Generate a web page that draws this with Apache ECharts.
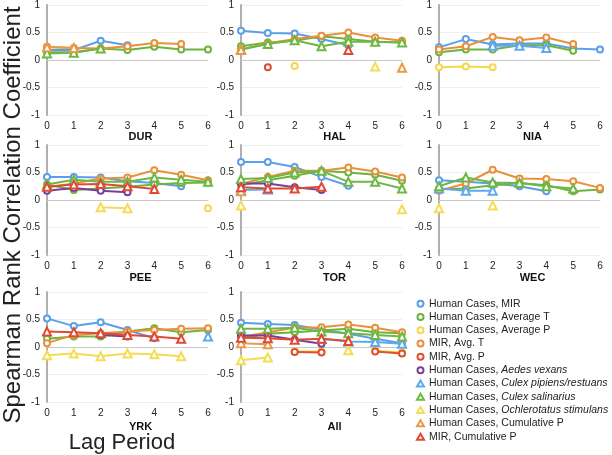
<!DOCTYPE html>
<html><head><meta charset="utf-8">
<script src="https://cdn.jsdelivr.net/npm/echarts@6/dist/echarts.min.js"></script>
<style>html,body{margin:0;padding:0;background:#fff}#c{width:612px;height:455px}</style>
</head><body><div id="c"></div>
<script>
const panelNames = ['DUR','HAL','NIA','PEE','TOR','WEC','YRK','All'];
const lags = ['0','1','2','3','4','5','6'];
const seriesNames = ['Human Cases, MIR','Human Cases, Average T','Human Cases, Average P','MIR, Avg. T','MIR, Avg. P','Human Cases, Aedes vexans','Human Cases, Culex pipiens/restuans','Human Cases, Culex salinarius','Human Cases, Ochlerotatus stimulans','Human Cases, Cumulative P','MIR, Cumulative P'];
const N = null;
// each array: one row per panel (DUR, HAL, NIA, PEE, TOR, WEC, YRK, All), lags 0..6
const hcMIR = [
 [0.18,0.18,0.35,0.27,N,N,N],
 [0.53,0.49,0.48,0.38,0.27,N,N],
 [0.23,0.38,0.28,0.30,0.30,0.21,0.19],
 [0.42,0.42,0.41,0.34,0.31,0.25,N],
 [0.69,0.69,0.60,0.42,0.26,N,N],
 [0.36,0.33,0.30,0.25,0.16,N,N],
 [0.52,0.38,0.45,0.31,0.16,N,N],
 [0.44,0.42,0.40,0.32,0.24,0.15,0.07]];
const hcAvgT = [
 [0.14,0.14,0.21,0.18,0.24,0.19,0.19],
 [0.25,0.32,0.35,0.43,0.38,0.33,0.32],
 [0.14,0.19,0.19,0.27,0.27,0.17,N],
 [0.28,0.18,0.21,0.24,0.28,0.31,0.32],
 [0.27,0.36,0.44,0.53,0.50,0.46,0.35],
 [0.20,0.21,0.27,0.31,0.27,0.16,0.19],
 [0.15,0.19,0.19,0.28,0.34,0.27,0.31],
 [0.16,0.24,0.27,0.30,0.33,0.27,0.25]];
const hcAvgP = [
 [N,N,N,N,N,N,N],
 [N,N,-0.11,N,N,N,N],
 [-0.13,-0.12,-0.13,N,N,N,N],
 [N,N,N,N,N,N,-0.15],
 [N,N,N,N,N,N,N],
 [N,N,N,N,N,N,N],
 [N,N,N,N,N,N,N],
 [N,N,-0.08,-0.08,N,-0.07,-0.10]];
const mirAvgT = [
 [0.24,0.22,0.21,0.25,0.31,0.29,N],
 [0.19,0.30,0.38,0.44,0.50,0.41,0.35],
 [0.19,0.25,0.42,0.36,0.41,0.29,N],
 [0.23,0.30,0.39,0.41,0.54,0.46,0.36],
 [0.29,0.42,0.53,0.53,0.59,0.52,0.41],
 [0.17,0.30,0.55,0.39,0.38,0.34,0.22],
 [0.07,0.22,0.25,0.28,0.31,0.33,0.34],
 [0.18,0.27,0.35,0.36,0.41,0.35,0.27]];
const mirAvgP = [
 [N,N,N,N,N,N,N],
 [N,-0.13,N,N,N,N,N],
 [N,N,N,N,N,N,N],
 [N,N,N,N,N,N,N],
 [N,N,N,N,N,N,N],
 [N,N,N,N,N,N,N],
 [N,N,N,N,N,N,N],
 [N,N,-0.09,-0.10,N,-0.08,-0.12]];
const aedes = [
 [N,N,N,N,N,N,N],
 [N,N,N,N,N,N,N],
 [N,N,N,N,N,N,N],
 [0.17,0.22,0.17,0.14,N,N,N],
 [0.30,0.30,0.23,0.18,N,N,N],
 [N,N,N,N,N,N,N],
 [N,N,0.22,0.19,N,N,N],
 [0.21,0.21,0.13,0.06,N,N,N]];
const culexPip = [
 [N,N,N,N,N,N,N],
 [N,N,N,N,N,N,N],
 [N,N,0.26,0.26,0.22,N,N],
 [N,N,N,N,N,N,N],
 [0.18,0.19,N,N,N,N,N],
 [0.21,0.17,0.17,N,N,N,N],
 [N,N,N,N,N,N,0.19],
 [N,N,N,0.15,0.10,0.09,0.06]];
const culexSal = [
 [0.12,0.13,0.21,N,N,N,N],
 [0.19,0.29,0.36,0.25,0.33,0.33,0.32],
 [N,N,N,N,N,N,N],
 [0.28,0.37,0.33,0.33,0.41,0.37,0.33],
 [0.38,0.40,0.50,0.53,0.33,0.33,0.21],
 [0.25,0.41,0.32,0.31,0.25,0.21,N],
 [N,N,N,N,N,N,N],
 [0.33,0.33,0.35,0.28,0.25,0.22,0.19]];
const ochler = [
 [N,N,N,N,N,N,N],
 [N,N,N,N,N,-0.12,N],
 [N,N,N,N,N,N,N],
 [N,N,-0.13,-0.15,N,N,N],
 [-0.10,N,N,N,N,N,-0.17],
 [-0.15,N,-0.10,N,N,N,N],
 [-0.15,-0.12,-0.17,-0.12,-0.13,-0.17,N],
 [-0.24,-0.19,N,N,-0.06,N,N]];
const cumP = [
 [0.23,0.22,N,N,N,N,N],
 [0.18,N,N,N,N,N,-0.14],
 [N,N,N,N,N,N,N],
 [N,N,N,N,N,N,N],
 [0.16,N,N,N,N,N,N],
 [N,N,N,N,N,N,N],
 [N,N,N,N,N,N,N],
 [0.07,0.05,N,N,N,N,N]];
const mirCumP = [
 [N,N,N,N,N,N,N],
 [N,N,N,N,0.18,N,N],
 [N,N,N,N,N,N,N],
 [0.24,0.28,0.29,0.25,0.20,N,N],
 [0.23,0.21,0.21,0.24,N,N,N],
 [N,N,N,N,N,N,N],
 [0.28,0.27,0.25,0.22,0.19,0.15,N],
 [0.17,0.16,0.13,0.15,0.11,N,N]];

const seriesData = [hcMIR,hcAvgT,hcAvgP,mirAvgT,mirAvgP,aedes,culexPip,culexSal,ochler,cumP,mirCumP];
const colors = ['#5B9EE9','#6CB33F','#F2D94C','#E8913A','#E0502E','#7B3F99','#5FA8EE','#6DB845','#F4DC55','#E99A45','#E04A35'];
const symbols = ['emptyCircle','emptyCircle','emptyCircle','emptyCircle','emptyCircle','emptyCircle','emptyTriangle','emptyTriangle','emptyTriangle','emptyTriangle','emptyTriangle'];

const colLeft = [47,241,439], rowTop = [5,145,292], nameGaps = [15,17,19];
const grids = [], xAxes = [], yAxes = [], series = [];
panelNames.forEach((p, k) => {
  const r = Math.floor(k/3), c = k%3;
  grids.push({left: colLeft[c], top: rowTop[r], width: 161, height: 110});
  xAxes.push({type:'category', gridIndex:k, data:lags, boundaryGap:false,
    name:p, nameLocation:'middle', nameGap:nameGaps[r],
    nameTextStyle:{fontSize:11, fontWeight:'bold', color:'#111', fontFamily:'Liberation Sans', padding:[0,0,0,26]},
    axisLine:{lineStyle:{color:'#c8c8c8', width:1}}, axisTick:{show:false},
    axisLabel:{fontSize:10, color:'#222', margin:6, fontFamily:'Liberation Sans'}, splitLine:{show:false}});
  yAxes.push({type:'value', gridIndex:k, min:-1, max:1, interval:0.5,
    axisLine:{show:true, lineStyle:{color:'#b0b0b0', width:2}}, axisTick:{show:false},
    axisLabel:{fontSize:10, color:'#222', margin:7, fontFamily:'Liberation Sans'},
    splitLine:{lineStyle:{color:'#eeeeee', width:1}}});
  seriesData.forEach((arr, s) => {
    series.push({type:'line', name:seriesNames[s], xAxisIndex:k, yAxisIndex:k,
      data: arr[k], connectNulls:false, symbol:symbols[s], symbolSize: s>=6?8:6,
      color: colors[s], lineStyle:{width:2, color:colors[s]},
      itemStyle:{color:colors[s], borderWidth:1.3}, animation:false, z: 2 + s});
  });
});

const italic = {5:'Aedes vexans',6:'Culex pipiens/restuans',7:'Culex salinarius',8:'Ochlerotatus stimulans'};
const chart = echarts.init(document.getElementById('c'));
chart.setOption({
  backgroundColor:'#fff',
  animation:false,
  grid: grids, xAxis: xAxes, yAxis: yAxes, series: series,
  legend: {orient:'vertical', left:411, top:292, itemWidth:7, itemHeight:6, itemGap:0,
    itemStyle:{borderWidth:1.2},
    data: seriesNames.map((n,i)=>({name:n, icon:symbols[i]})),
    formatter: function(name){
      const i = seriesNames.indexOf(name);
      if (italic[i]) return '{n|Human Cases, }{i|' + italic[i] + '}';
      return '{n|' + name + '}';
    },
    textStyle:{fontSize:10.5, color:'#222', fontFamily:'Liberation Sans', lineHeight:13.3,
      rich:{n:{fontSize:10.5, color:'#222', lineHeight:13.3, fontFamily:'Liberation Sans'},
            i:{fontSize:10.5, color:'#222', lineHeight:13.3, fontStyle:'italic', fontFamily:'Liberation Sans'}}}
  },
  graphic: [
    {type:'text', x:13, y:215, rotation:Math.PI/2, style:{text:'Spearman Rank Correlation Coefficient', fontSize:24, fontFamily:'Liberation Sans', fill:'#222', textAlign:'center', textVerticalAlign:'middle'}},
    {type:'text', x:122, y:443, style:{text:'Lag Period', fontSize:22, fontFamily:'Liberation Sans', fill:'#222', textAlign:'center', textVerticalAlign:'middle'}}
  ]
});
</script></body></html>
